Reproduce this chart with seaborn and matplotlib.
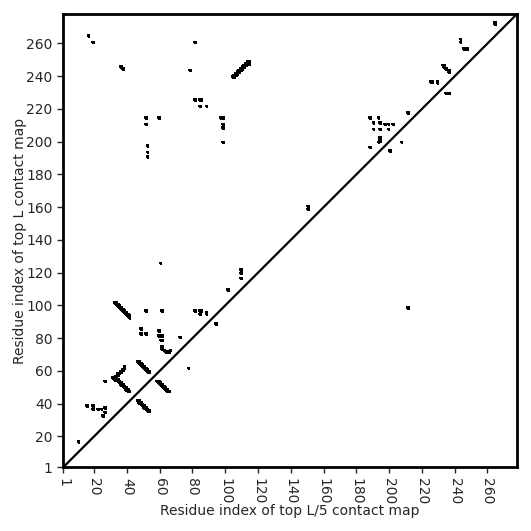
import numpy as np
import matplotlib
matplotlib.use("Agg")
import matplotlib.pyplot as plt
import seaborn as sns

L = 277
tick_values = [1] + list(range(20, 261, 20))

# isolated contacts (residue i on x, residue j on y)
point_i = [16, 19, 36, 37, 78, 81, 81, 84, 85, 84, 88,
           51, 51, 59, 97, 98, 98, 98, 98, 52, 52, 52,
           60, 101, 109, 109, 109,
           51, 61, 81, 84, 85, 84, 88, 88, 94,
           48, 48, 51, 59, 59, 61, 60, 61, 72,
           26, 15, 19, 19, 22, 24, 26, 26, 25, 10,
           264, 264, 243, 243, 245, 246, 247,
           225, 226, 229, 229, 234, 235, 236,
           211, 188, 193, 190, 194, 197, 199, 202, 190, 194, 199,
           194, 194, 194, 193, 188, 200, 207,
           211, 150, 150, 77]
point_j = [264, 260, 245, 244, 243, 260, 225, 225, 225, 221, 221,
           214, 210, 214, 214, 214, 210, 208, 199, 197, 193, 190,
           125, 109, 121, 119, 116,
           96, 96, 96, 96, 96, 94, 95, 94, 88,
           85, 82, 82, 84, 81, 81, 78, 78, 80,
           53, 38, 38, 36, 36, 36, 37, 34, 32, 16,
           272, 271, 262, 260, 256, 256, 256,
           236, 236, 236, 235, 229, 229, 229,
           217, 214, 214, 211, 211, 210, 210, 210, 207, 207, 207,
           202, 201, 200, 199, 196, 194, 199,
           98, 160, 158, 61]

# strand-pairing bands
band_i = [104, 105, 105, 106, 106, 107, 107, 108, 108, 109, 109, 110, 110, 111, 111, 112, 112, 113, 113, 114, 114,
          32, 33, 33, 34, 34, 35, 35, 36, 36, 37, 37, 38, 38, 39, 39, 40, 40, 41, 41,
          33, 34, 34, 35, 36, 37, 38, 38,
          31, 32, 32, 33, 33, 34, 34, 35, 35, 36, 36, 37, 37, 38, 38, 39, 39, 40, 40, 41,
          46, 47, 47, 48, 48, 49, 49, 50, 50, 51, 51, 52, 52, 53,
          58, 59, 59, 60, 60, 61, 61, 62, 62, 63, 63, 64, 64, 65,
          46, 47, 47, 48, 48, 49, 49, 50, 50, 51, 51, 52, 52, 53,
          61, 61, 62, 63, 64, 65, 66,
          232, 233, 233, 234, 235, 236, 236]
band_j = [239, 239, 240, 240, 241, 241, 242, 242, 243, 243, 244, 244, 245, 245, 246, 246, 247, 247, 248, 247, 248,
          101, 101, 100, 100, 99, 99, 98, 98, 97, 97, 96, 96, 95, 95, 94, 94, 93, 93, 92,
          56, 57, 58, 58, 59, 60, 61, 62,
          55, 55, 54, 55, 54, 54, 53, 53, 52, 52, 51, 51, 50, 50, 49, 49, 48, 48, 47, 47,
          65, 65, 64, 64, 63, 63, 62, 62, 61, 61, 60, 60, 59, 59,
          53, 53, 52, 52, 51, 51, 50, 50, 49, 49, 48, 48, 47, 47,
          41, 41, 40, 40, 39, 39, 38, 38, 37, 37, 36, 36, 35, 35,
          74, 73, 72, 71, 71, 71, 72,
          246, 246, 245, 244, 243, 243, 242]

sns.set_style("white")
plt.rcParams['font.family'] = ['DejaVu Sans']

mat = np.zeros((L, L))
for i, j in zip(point_i + band_i, point_j + band_j):
    mat[j - 1, i - 1] = 1

fig = plt.figure(figsize=(5.31, 5.31), dpi=100)
ax = fig.add_axes([0.1186, 0.1196, 0.855, 0.854])
sns.heatmap(mat, mask=(mat == 0), cmap="Greys", vmin=0, vmax=1, cbar=False, ax=ax,
            xticklabels=False, yticklabels=False, linewidths=0.2, linecolor="face")
ax.plot([0, L], [0, L], color="black", lw=1.6)
ax.set_xlim(0, L)
ax.set_ylim(0, L)
ticks = [t - 1 for t in tick_values]
ax.set_xticks(ticks)
ax.set_xticklabels([str(t) for t in tick_values], rotation=-90)
ax.set_yticks(ticks)
ax.set_yticklabels([str(t) for t in tick_values], rotation=0)
ax.tick_params(axis="both", which="major", length=4, width=1, bottom=True, left=True,
               labelsize=10, direction="out")
for s in ax.spines.values():
    s.set_visible(True)
    s.set_linewidth(2)
    s.set_color("black")
ax.set_xlabel("Residue index of top L/5 contact map", fontsize=10, labelpad=0)
ax.set_ylabel("Residue index of top L contact map", fontsize=10, labelpad=-0.5)
fig.savefig("out.png", dpi=100)
